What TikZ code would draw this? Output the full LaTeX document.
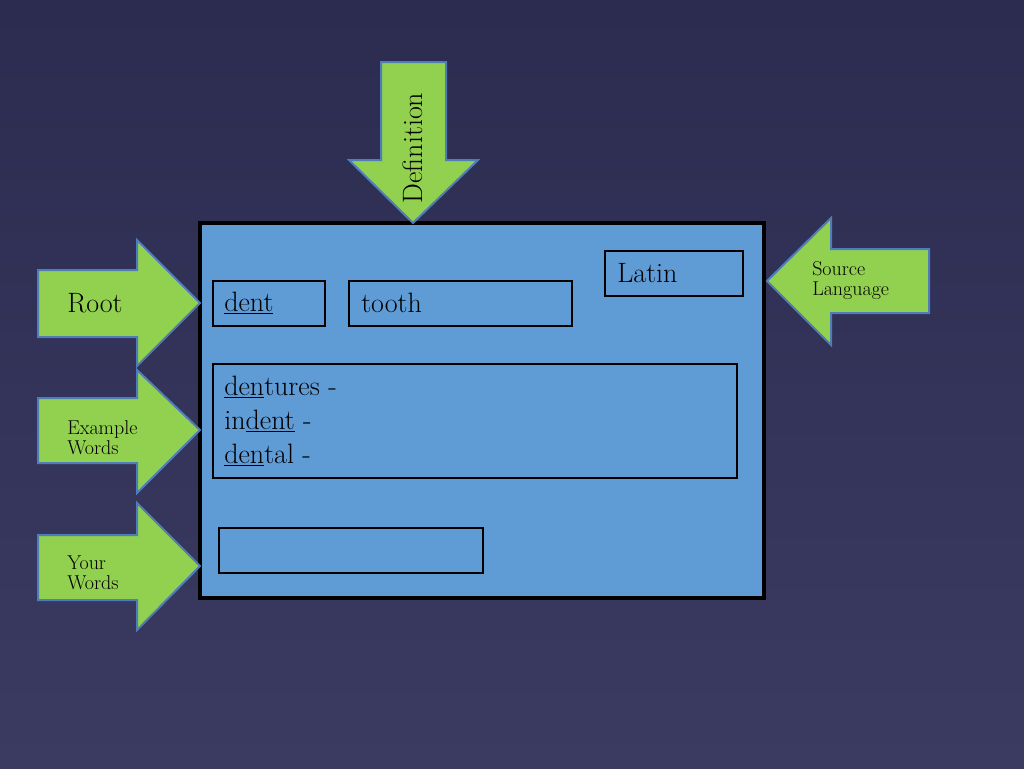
\documentclass[tikz,border=0pt]{standalone}
\definecolor{bgA}{HTML}{2C2B50}
\definecolor{bgB}{HTML}{3B3B62}
\definecolor{arrg}{HTML}{92D050}
\definecolor{arrb}{HTML}{4F7DB8}
\definecolor{boxb}{HTML}{5F9BD5}
\tikzset{
  arr/.style={fill=arrg,draw=arrb,line width=1.5pt,line join=miter},
  bx/.style={draw=black,line width=2.2pt},
  lbl/.style={font=\fontsize{15}{16}\selectfont,align=left,anchor=west,inner sep=0pt},
  txt/.style={font=\fontsize{21}{24}\selectfont,anchor=west,inner sep=0pt}
}
\begin{document}
\begin{tikzpicture}[x=0.75pt,y=-0.75pt]
\useasboundingbox (0,0) rectangle (1024,768);
\shade[top color=bgA,bottom color=bgB] (0,0) rectangle (1024,768);
% main box
\node[bx,fill=boxb,line width=2.8pt,minimum width=0.75*564pt,minimum height=0.75*375pt,inner sep=0pt] (main) at (482,410.5) {};
% arrows
\draw[arr] (38,270) -- (137,270) -- (137,240) -- (200,303) -- (137,366) -- (137,337) -- (38,337) -- cycle;
\draw[arr] (38,398) -- (137,398) -- (137,370) -- (200,430) -- (137,493) -- (137,463) -- (38,463) -- cycle;
\draw[arr] (38,535) -- (137,535) -- (137,503) -- (200,566) -- (137,630) -- (137,600) -- (38,600) -- cycle;
\draw[arr] (381,62) -- (446,62) -- (446,160) -- (478,160) -- (413,223) -- (349,160) -- (381,160) -- cycle;
\draw[arr] (929,249) -- (831,249) -- (831,218) -- (767,281) -- (831,345) -- (831,313) -- (929,313) -- cycle;
\node[txt] (troot) at (67,303) {Root};
\node[lbl] (tex) at (67,438) {Example\\[-1pt]Words};
\node[lbl] (tyw) at (67,573) {Your\\[-1pt]Words};
\node[lbl] (tsl) at (812,281) {Source\\[-1pt]Language};
\node[txt,rotate=90,anchor=center] (tdef) at (413,148) {Definition};
% inner boxes
\draw[bx] (213,281) rectangle (325,326);
\draw[bx] (349,281) rectangle (572,326);
\draw[bx] (605,251) rectangle (743,296);
\draw[bx] (213,364) rectangle (737,478);
\draw[bx] (219,528) rectangle (483,573);
\node[txt] (dent) at (224,303) {\underline{dent}};
\node[txt] (tooth) at (361,303) {tooth};
\node[txt] (latin) at (617,273) {Latin};
\node[txt] (w1) at (224,387) {\underline{den}tures -};
\node[txt] (w2) at (224,421) {in\underline{dent} -};
\node[txt] (w3) at (224,455) {\underline{den}tal -};
\end{tikzpicture}
\end{document}
